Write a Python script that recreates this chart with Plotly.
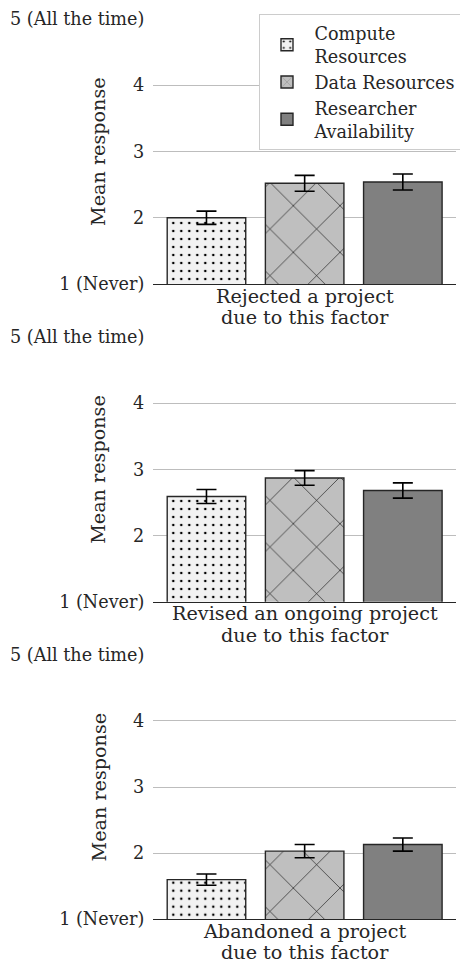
import plotly.graph_objects as go

# Survey outcome for each panel (x category), one entry per text line
outcomes = [
    ["Rejected a project", "due to this factor"],
    ["Revised an ongoing project", "due to this factor"],
    ["Abandoned a project", "due to this factor"],
]

# Factors (legend entries)
factors = ["Compute<br>Resources", "Data Resources", "Researcher<br>Availability"]

# Mean response per outcome, and error-bar half-widths
compute_mean = [2.00, 2.59, 1.60]
compute_err = [0.10, 0.105, 0.085]
data_mean = [2.52, 2.87, 2.03]
data_err = [0.12, 0.11, 0.10]
researcher_mean = [2.54, 2.68, 2.13]
researcher_err = [0.12, 0.115, 0.10]

# Likert scale ticks
tick_vals = [1, 2, 3, 4, 5]
tick_text = ["1 (Never)", "2", "3", "4", "5 (All the time)"]

means = [compute_mean, data_mean, researcher_mean]
errs = [compute_err, data_err, researcher_err]

FONT = "DejaVu Serif"
TEXT = "#262626"
TICK_SIZE = 17.6
LABEL_SIZE = 19.2
W, H = 460, 963

styles = [
    dict(color="#f2f2f2", pattern=dict(shape=".", fgcolor="black", fgopacity=1,
                                       size=8, solidity=0.08, fillmode="overlay")),
    dict(color="#bfbfbf", pattern=dict(shape="x", fgcolor="black", fgopacity=1,
                                       size=33, solidity=0.035, fillmode="overlay")),
    dict(color="#808080"),
]

# Panel extents in pixels (top, bottom) and the common x extent
panel_px = [(19, 284), (337, 601.7), (654.7, 919.3)]
x_dom = [153.3 / W, 456 / W]
x_mid = (x_dom[0] + x_dom[1]) / 2

fig = go.Figure()

for p, lines in enumerate(outcomes):
    ax = "" if p == 0 else str(p + 1)
    category = " ".join(lines)
    for f, name in enumerate(factors):
        fig.add_trace(go.Bar(
            x=[category],
            y=[means[f][p]],
            name=name,
            legendgroup=name,
            showlegend=(p == 0),
            marker=dict(**styles[f], line=dict(color="#262626", width=1.4)),
            error_y=dict(type="data", array=[errs[f][p]], color="black",
                         thickness=1.6, width=10),
            xaxis="x" + ax,
            yaxis="y" + ax,
        ))

layout = dict(
    width=W, height=H,
    margin=dict(l=0, r=0, t=0, b=0, autoexpand=False),
    paper_bgcolor="white",
    plot_bgcolor="white",
    font=dict(family=FONT, size=TICK_SIZE, color=TEXT),
    barmode="group",
    bargap=0.027,
    bargroupgap=0.2,
    legend=dict(
        x=258.5 / W, y=1 - 14.3 / H, xanchor="left", yanchor="top",
        bgcolor="white", bordercolor="#cccccc", borderwidth=1,
        font=dict(family=FONT, size=TICK_SIZE, color=TEXT),
        tracegroupgap=0, itemwidth=45,
    ),
    showlegend=True,
)

annotations = []
for p, (top, bot) in enumerate(panel_px):
    ax = "" if p == 0 else str(p + 1)
    y_dom = [1 - bot / H, 1 - top / H]
    layout["xaxis" + ax] = dict(
        domain=x_dom, anchor="y" + ax, type="category",
        showline=True, linecolor="#262626", linewidth=1.4,
        showgrid=False, ticks="", showticklabels=False, fixedrange=True,
    )
    layout["yaxis" + ax] = dict(
        domain=y_dom, anchor="x" + ax, range=[1, 5],
        tickvals=tick_vals, ticktext=tick_text,
        showgrid=True, gridcolor="#bdbdbd", gridwidth=1,
        zeroline=False, showline=False, ticks="",
        ticklabelstandoff=8, tickfont=dict(size=TICK_SIZE, color=TEXT),
        fixedrange=True,
    )
    # y-axis title
    annotations.append(dict(
        text="Mean response", textangle=-90,
        x=98.5 / W, y=(y_dom[0] + y_dom[1]) / 2,
        xref="paper", yref="paper", xanchor="center", yanchor="middle",
        showarrow=False, font=dict(family=FONT, size=LABEL_SIZE, color=TEXT),
    ))
    # x-axis label, two lines below the axis
    for k, line in enumerate(outcomes[p]):
        annotations.append(dict(
            text=line, x=x_mid, y=1 - (bot + 12.2 + 21.2 * k) / H,
            xref="paper", yref="paper", xanchor="center", yanchor="middle",
            borderpad=0, showarrow=False,
            font=dict(family=FONT, size=LABEL_SIZE, color=TEXT),
        ))

layout["annotations"] = annotations
fig.update_layout(**layout)

fig.write_html("out.html")
